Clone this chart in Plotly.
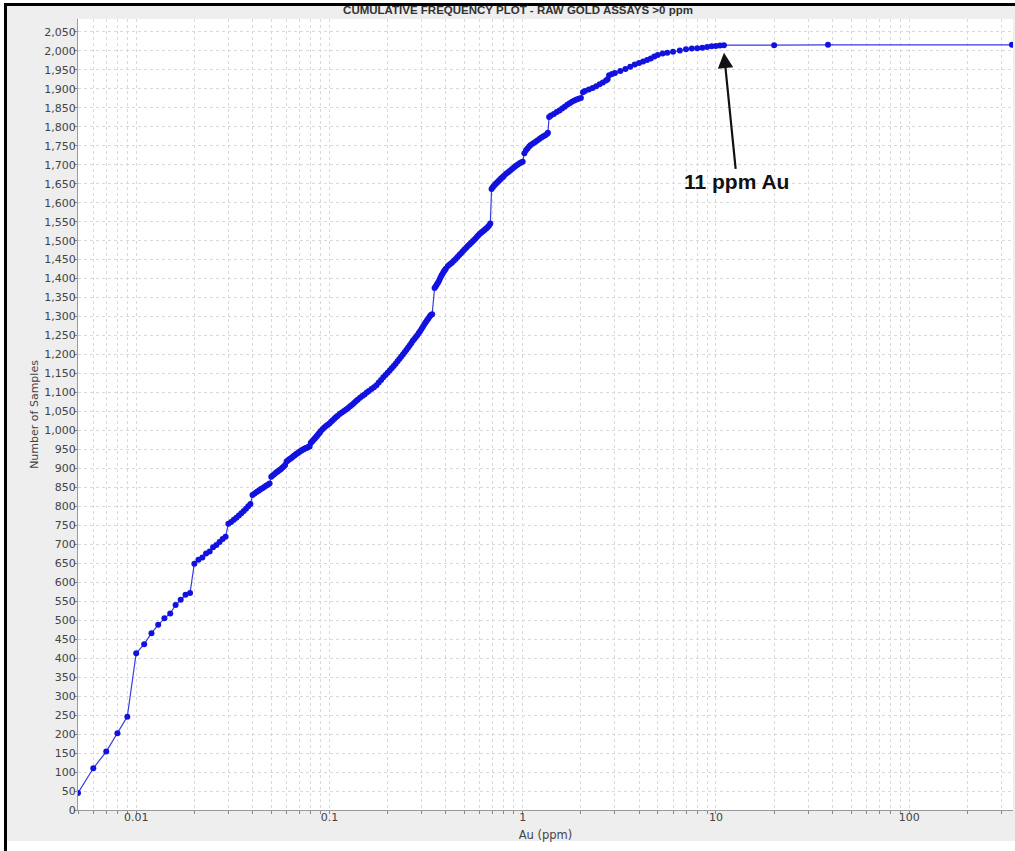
import math
import plotly.graph_objects as go

# ---------------- data ----------------
au_ppm = [
    0.005, 0.006, 0.007, 0.008, 0.009, 0.010, 0.011, 0.012, 0.013, 0.014,
    0.015, 0.016, 0.017, 0.018, 0.019, 0.020, 0.021, 0.022, 0.023, 0.024,
    0.025, 0.026, 0.027, 0.028, 0.029, 0.030, 0.031, 0.032, 0.033, 0.034,
    0.035, 0.036, 0.037, 0.038, 0.039, 0.040, 0.041, 0.042, 0.043, 0.044,
    0.045, 0.046, 0.047, 0.048, 0.049, 0.050, 0.051, 0.052, 0.053, 0.054,
    0.055, 0.056, 0.057, 0.058, 0.059, 0.060, 0.061, 0.062, 0.063, 0.064,
    0.065, 0.066, 0.067, 0.068, 0.069, 0.070, 0.071, 0.072, 0.073, 0.074,
    0.075, 0.076, 0.077, 0.078, 0.079, 0.080, 0.081, 0.082, 0.083, 0.084,
    0.085, 0.086, 0.087, 0.088, 0.089, 0.090, 0.092, 0.094, 0.096, 0.098,
    0.100, 0.102, 0.104, 0.106, 0.108, 0.110, 0.113, 0.116, 0.119, 0.122,
    0.125, 0.128, 0.131, 0.134, 0.137, 0.140, 0.144, 0.148, 0.152, 0.156,
    0.160, 0.165, 0.170, 0.175, 0.180, 0.185, 0.190, 0.195, 0.200, 0.205,
    0.210, 0.215, 0.220, 0.225, 0.230, 0.235, 0.240, 0.245, 0.250, 0.255,
    0.260, 0.265, 0.270, 0.275, 0.280, 0.285, 0.290, 0.295, 0.300, 0.305,
    0.310, 0.315, 0.320, 0.325, 0.330, 0.335, 0.340, 0.350, 0.355, 0.360,
    0.365, 0.370, 0.375, 0.380, 0.385, 0.390, 0.395, 0.400, 0.41, 0.42,
    0.43, 0.44, 0.45, 0.46, 0.47, 0.48, 0.49, 0.50, 0.51, 0.52,
    0.53, 0.54, 0.55, 0.56, 0.57, 0.58, 0.59, 0.60, 0.61, 0.62,
    0.63, 0.64, 0.65, 0.66, 0.67, 0.68, 0.69, 0.70, 0.71, 0.72,
    0.73, 0.74, 0.75, 0.76, 0.77, 0.78, 0.79, 0.80, 0.82, 0.84,
    0.86, 0.88, 0.90, 0.92, 0.94, 0.96, 0.98, 1.00, 1.02, 1.04,
    1.06, 1.08, 1.10, 1.13, 1.16, 1.19, 1.22, 1.25, 1.28, 1.31,
    1.34, 1.35, 1.37, 1.40, 1.45, 1.50, 1.55, 1.60, 1.65, 1.70,
    1.75, 1.80, 1.85, 1.90, 1.95, 2.00, 2.05, 2.10, 2.20, 2.30,
    2.40, 2.50, 2.60, 2.70, 2.75, 2.80, 2.90, 3.00, 3.20, 3.40,
    3.60, 3.80, 4.00, 4.20, 4.40, 4.60, 4.80, 5.00, 5.30, 5.60,
    6.00, 6.50, 7.00, 7.50, 8.00, 8.50, 9.00, 9.50, 10.0, 10.5,
    11.0, 20.0, 38.0, 340.0,
]
n_samples = [
    45, 110, 154, 202, 246, 413, 437, 466, 488, 505,
    518, 540, 554, 567, 572, 649, 659, 665, 676, 681,
    692, 698, 706, 714, 720, 754, 759, 765, 770, 776,
    782, 788, 794, 800, 806, 830, 834, 838, 841, 845,
    848, 851, 854, 857, 860, 878, 882, 885, 889, 892,
    895, 898, 902, 905, 909, 918, 921, 924, 926, 929,
    932, 934, 937, 939, 941, 944, 946, 948, 950, 951,
    953, 954, 955, 957, 958, 967, 970, 973, 976, 979,
    982, 985, 988, 991, 994, 998, 1003, 1008, 1012, 1015,
    1018, 1023, 1027, 1031, 1035, 1038, 1043, 1047, 1051, 1055,
    1059, 1064, 1068, 1072, 1077, 1081, 1086, 1091, 1095, 1100,
    1104, 1109, 1114, 1119, 1126, 1133, 1140, 1146, 1152, 1158,
    1164, 1170, 1176, 1182, 1188, 1194, 1200, 1206, 1212, 1218,
    1224, 1230, 1236, 1241, 1246, 1251, 1257, 1262, 1268, 1274,
    1280, 1285, 1290, 1295, 1300, 1304, 1306, 1375, 1380, 1385,
    1390, 1396, 1402, 1408, 1413, 1418, 1422, 1426, 1433, 1438,
    1442, 1447, 1452, 1457, 1462, 1467, 1472, 1477, 1481, 1486,
    1490, 1494, 1498, 1502, 1506, 1510, 1514, 1518, 1521, 1524,
    1527, 1530, 1533, 1536, 1540, 1545, 1636, 1641, 1645, 1648,
    1651, 1654, 1657, 1660, 1663, 1666, 1668, 1671, 1676, 1680,
    1684, 1689, 1693, 1697, 1700, 1703, 1706, 1708, 1730, 1738,
    1743, 1748, 1752, 1756, 1760, 1764, 1768, 1772, 1775, 1778,
    1782, 1784, 1826, 1830, 1834, 1839, 1843, 1848, 1853, 1858,
    1862, 1866, 1869, 1872, 1874, 1876, 1891, 1894, 1898, 1902,
    1907, 1912, 1917, 1922, 1925, 1936, 1939, 1942, 1947, 1952,
    1958, 1964, 1968, 1972, 1976, 1980, 1985, 1989, 1993, 1995,
    1998, 2001, 2004, 2006, 2007, 2008, 2010, 2012, 2013, 2014,
    2015, 2015, 2016, 2016,
]

title_text = "CUMULATIVE FREQUENCY PLOT - RAW GOLD ASSAYS >0 ppm"
x_title = "Au (ppm)"
y_title = "Number of Samples"
x_label_decades = [0.01, 0.1, 1, 10, 100]
x_label_text = ["0.01", "0.1", "1", "10", "100"]
note_text = "11 ppm Au"
note_au = 11
note_samples = 1995

# ---------------- layout geometry ----------------
W, H = 1015, 851
L, R, T, B = 78, 2, 19, 41
PW, PH = W - L - R, H - T - B


def xp(px):
    return (px - L) / PW


def yp(py):
    return (H - B - py) / PH


# log axis ticks at every 1..9 multiple, labels only on decades
tickvals, ticktext = [], []
for e in range(-3, 3):
    for m in range(1, 10):
        v = round(m * 10 ** e, 6)
        if 0.005 <= v <= 345:
            tickvals.append(v)
            lab = ""
            for d, t in zip(x_label_decades, x_label_text):
                if abs(v - d) < 1e-9:
                    lab = t
            ticktext.append(lab)

fig = go.Figure()
fig.add_trace(go.Scatter(
    x=au_ppm, y=n_samples, mode="lines+markers",
    line=dict(color="#3a3ae6", width=1.2),
    marker=dict(color="#1212e0", size=6),
    showlegend=False,
))

grid_col = "#d9d9d9"
fig.update_xaxes(
    type="log", range=[math.log10(0.005), 2.537],
    tickvals=tickvals, ticktext=ticktext,
    ticks="outside", ticklen=3, tickcolor="#888",
    ticklabelstandoff=-6,
    showgrid=True, gridcolor=grid_col, griddash="dot", gridwidth=1,
    showline=True, linecolor="#999", linewidth=1,
    zeroline=False,
    tickfont=dict(family="DejaVu Sans", size=11, color="#444"),
    title=dict(text=x_title, standoff=7,
               font=dict(family="DejaVu Sans", size=11.5, color="#444")),
)
fig.update_yaxes(
    range=[0, 2084], dtick=50, tick0=0, tickformat=",d",
    ticks="outside", ticklen=3, tickcolor="#888",
    ticklabelstandoff=-4,
    showgrid=True, gridcolor=grid_col, griddash="dot", gridwidth=1,
    showline=True, linecolor="#999", linewidth=1,
    zeroline=False,
    tickfont=dict(family="DejaVu Sans", size=11, color="#444"),
    title=dict(text=y_title, standoff=3,
               font=dict(family="DejaVu Sans", size=11, color="#444")),
)

shapes = [
    # grey window background
    dict(type="rect", xref="paper", yref="paper", layer="below",
         x0=xp(7), x1=xp(W + 2), y0=yp(6), y1=yp(841),
         fillcolor="#eeeeee", line=dict(width=0)),
    # white plotting area
    dict(type="rect", xref="paper", yref="paper", layer="below",
         x0=0, x1=1, y0=0, y1=1, fillcolor="#ffffff", line=dict(width=0)),
    # black frame lines
    dict(type="rect", xref="paper", yref="paper", layer="above",
         x0=xp(4), x1=xp(7), y0=yp(3), y1=yp(H + 2),
         fillcolor="#000000", line=dict(width=0)),
    dict(type="rect", xref="paper", yref="paper", layer="above",
         x0=xp(4), x1=xp(W + 2), y0=yp(3), y1=yp(6),
         fillcolor="#000000", line=dict(width=0)),
]

fig.update_layout(
    width=W, height=H,
    margin=dict(l=L, r=R, t=T, b=B, pad=0),
    paper_bgcolor="#ffffff", plot_bgcolor="#ffffff",
    shapes=shapes,
    title=dict(text=title_text, x=518 / W, xanchor="center",
               y=1 - 10 / H, yanchor="middle",
               font=dict(family="Liberation Sans", size=11.5, color="#333",
                         weight="bold")),
    annotations=[dict(
        x=math.log10(note_au), y=note_samples, xref="x", yref="y",
        text="<b>" + note_text + "</b>", showarrow=True,
        ax=13, ay=129, arrowhead=2, arrowsize=1.4, arrowwidth=2.2,
        arrowcolor="#111", standoff=0,
        font=dict(family="Liberation Sans", size=21, color="#111"),
    )],
)

fig.write_html("out.html")
